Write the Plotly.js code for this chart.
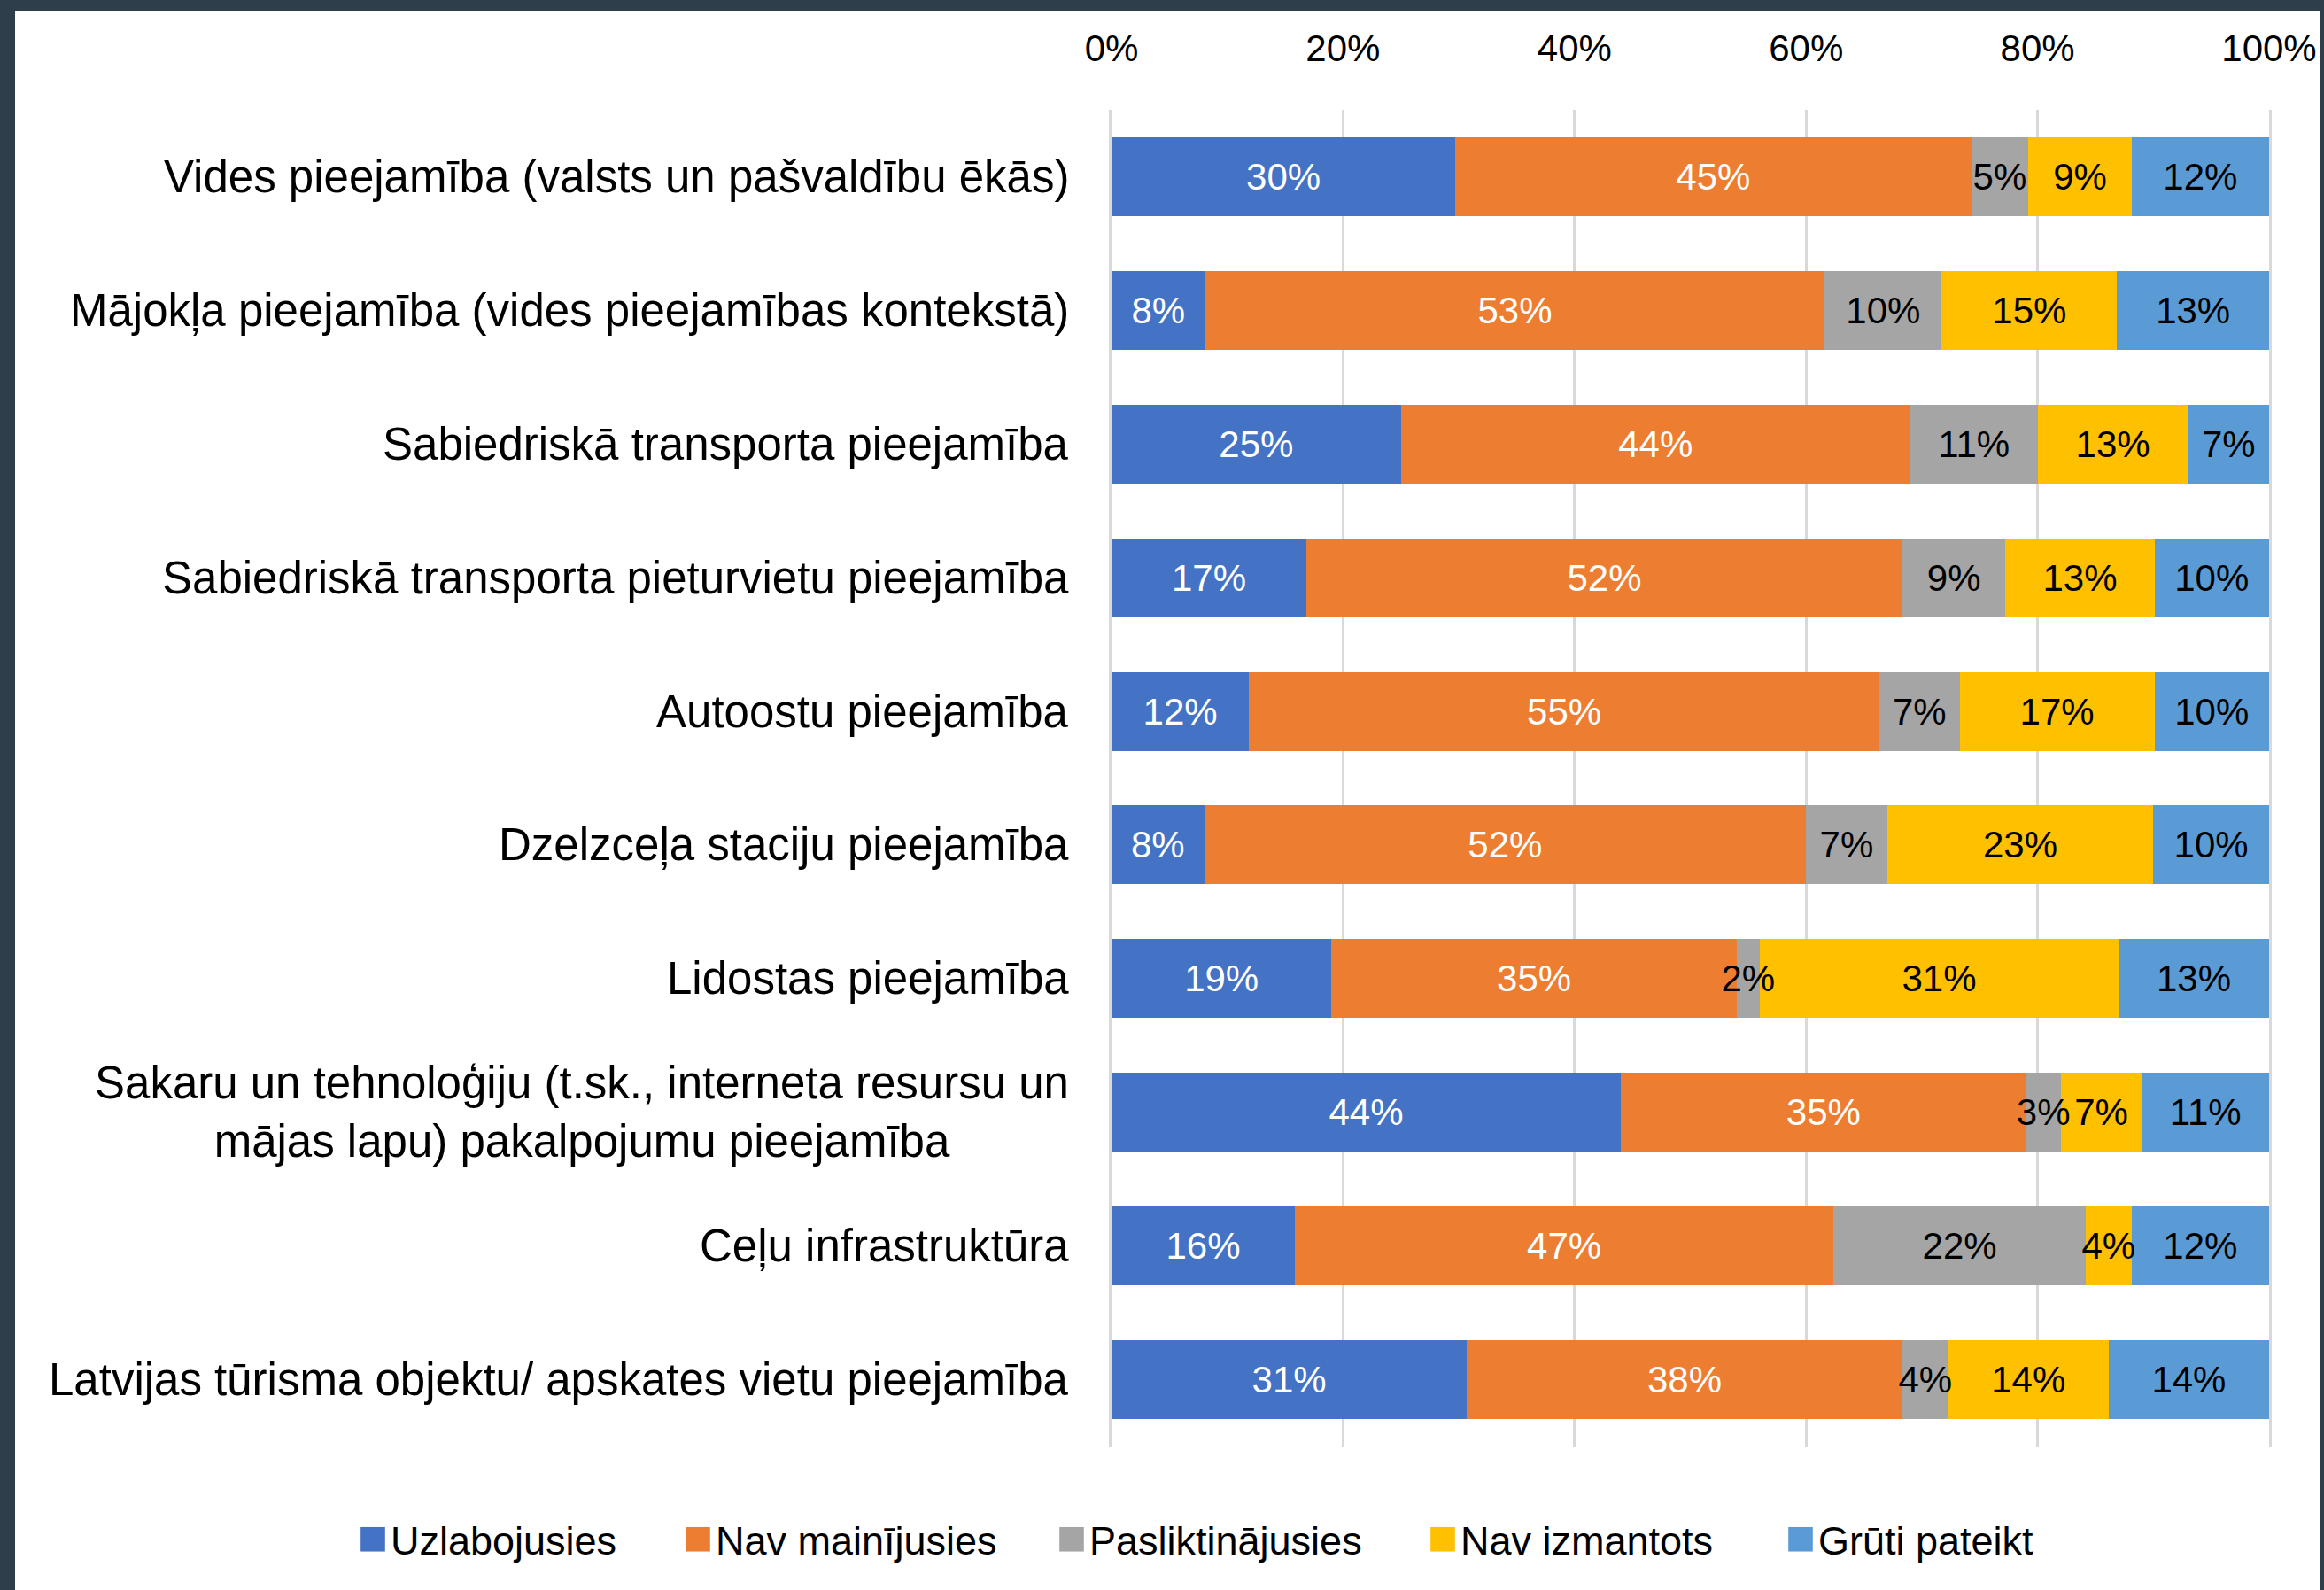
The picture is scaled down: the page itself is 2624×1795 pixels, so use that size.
<!DOCTYPE html>
<html>
<head>
<meta charset="utf-8">
<script src="https://cdn.plot.ly/plotly-3.0.1.min.js"></script>
<style>
html,body{margin:0;padding:0;background:#2e3e4b;width:2624px;height:1795px;overflow:hidden}
#chart{position:absolute;left:17px;top:12px;width:2602px;height:1783px;background:#ffffff}
</style>
</head>
<body>
<div id="chart"></div>
<script>
// ---- data ----
const categories = [
  "Vides pieejamība (valsts un pašvaldību ēkās)",
  "Mājokļa pieejamība (vides pieejamības kontekstā)",
  "Sabiedriskā transporta pieejamība",
  "Sabiedriskā transporta pieturvietu pieejamība",
  "Autoostu pieejamība",
  "Dzelzceļa staciju pieejamība",
  "Lidostas pieejamība",
  "Sakaru un tehnoloģiju (t.sk., interneta resursu un mājas lapu) pakalpojumu pieejamība",
  "Ceļu infrastruktūra",
  "Latvijas tūrisma objektu/ apskates vietu pieejamība"
];
const categoryLabels = [
  "Vides pieejamība (valsts un pašvaldību ēkās)",
  "Mājokļa pieejamība (vides pieejamības kontekstā)",
  "Sabiedriskā transporta pieejamība",
  "Sabiedriskā transporta pieturvietu pieejamība",
  "Autoostu pieejamība",
  "Dzelzceļa staciju pieejamība",
  "Lidostas pieejamība",
  "Sakaru un tehnoloģiju (t.sk., interneta resursu un<br>mājas lapu) pakalpojumu pieejamība",
  "Ceļu infrastruktūra",
  "Latvijas tūrisma objektu/ apskates vietu pieejamība"
];
const seriesNames = ["Uzlabojusies", "Nav mainījusies", "Pasliktinājusies", "Nav izmantots", "Grūti pateikt"];
const uzlabojusies     = [30,  8, 25, 17, 12,  8, 19, 44, 16, 31];
const navMainijusies   = [45, 53, 44, 52, 55, 52, 35, 35, 47, 38];
const pasliktinajusies = [ 5, 10, 11,  9,  7,  7,  2,  3, 22,  4];
const navIzmantots     = [ 9, 15, 13, 13, 17, 23, 31,  7,  4, 14];
const grutiPateikt     = [12, 13,  7, 10, 10, 10, 13, 11, 12, 14];
const xTickValues = [0, 20, 40, 60, 80, 100];
const xTickLabels = ["0%", "20%", "40%", "60%", "80%", "100%"];

// ---- styles ----
const FONT = "Liberation Sans, Arial, sans-serif";
const seriesValues = [uzlabojusies, navMainijusies, pasliktinajusies, navIzmantots, grutiPateikt];
const seriesColors = ["#4472c4", "#ed7d31", "#a5a5a5", "#ffc000", "#5b9bd5"];
const labelColors  = ["#ffffff", "#ffffff", "#000000", "#000000", "#000000"];
const legendWidths = [322, 377, 374, 359, 260];

// coloured bars (main subplot)
const barTraces = seriesNames.map((name, s) => ({
  type: "bar",
  orientation: "h",
  name: name,
  y: categories,
  x: seriesValues[s],
  xaxis: "x", yaxis: "y",
  textposition: "none",
  marker: {color: seriesColors[s], line: {width: 0}},
  legendwidth: legendWidths[s],
  hoverinfo: "name+x"
}));

// same stacks on an overlaid axis, transparent, carrying the value labels on top
const labelTraces = seriesNames.map((name, s) => ({
  type: "bar",
  orientation: "h",
  name: name,
  y: categories,
  x: seriesValues[s],
  xaxis: "x", yaxis: "y2",
  text: seriesValues[s].map(v => v + "%"),
  texttemplate: "%{text}",
  textposition: "inside",
  insidetextanchor: "middle",
  textangle: 0,
  constraintext: "none",
  cliponaxis: false,
  textfont: {family: FONT, size: 42, color: labelColors[s]},
  marker: {color: "rgba(0,0,0,0)", line: {width: 0}},
  showlegend: false,
  hoverinfo: "skip"
}));

const annotations = categories.map((c, i) => ({
  xref: "paper", yref: "y",
  x: 0, y: c,
  xanchor: "right", yanchor: "middle",
  xshift: -46,
  text: categoryLabels[i],
  showarrow: false,
  align: "center",
  font: {family: FONT, size: 51, color: "#000000"}
}));

const layout = {
  width: 2602, height: 1783,
  paper_bgcolor: "#ffffff",
  plot_bgcolor: "#ffffff",
  barmode: "stack",
  barnorm: "percent",
  bargap: 0.41,
  margin: {l: 1238, r: 57, t: 112, b: 162},
  font: {family: FONT, color: "#000000"},
  xaxis: {
    side: "top",
    range: [0, 100.0001],
    tickvals: xTickValues,
    ticktext: xTickLabels,
    showgrid: true,
    gridcolor: "#d9d9d9",
    gridwidth: 3,
    zeroline: false,
    showline: false,
    ticks: "",
    ticklabelstandoff: 46,
    tickfont: {family: FONT, size: 42, color: "#000000"},
    layer: "below traces"
  },
  yaxis: {
    type: "category",
    autorange: "reversed",
    showticklabels: false,
    showgrid: false,
    zeroline: false,
    showline: true,
    mirror: true,
    linecolor: "#d9d9d9",
    linewidth: 3,
    layer: "below traces"
  },
  yaxis2: {
    type: "category",
    overlaying: "y",
    matches: "y",
    autorange: "reversed",
    showticklabels: false,
    showgrid: false,
    zeroline: false,
    showline: false,
    ticks: ""
  },
  showlegend: true,
  legend: {
    orientation: "h",
    traceorder: "normal",
    xref: "paper", yref: "paper",
    x: (384 - 1238) / 1307, xanchor: "left",
    y: (1621 - 1726) / 1509, yanchor: "middle",
    font: {family: FONT, size: 45, color: "#000000"},
    bgcolor: "rgba(0,0,0,0)"
  },
  annotations: annotations
};

function enlargeLegendSymbols() {
  document.querySelectorAll("#chart .legendpoints path").forEach(p => {
    if (p.getAttribute("data-big")) return;
    const t = p.getAttribute("transform") || "";
    p.setAttribute("transform", t + " scale(2.3)");
    p.setAttribute("data-big", "1");
  });
}

Plotly.newPlot("chart", barTraces.concat(labelTraces), layout, {displayModeBar: false, staticPlot: true}).then(gd => {
  enlargeLegendSymbols();
  gd.on("plotly_afterplot", enlargeLegendSymbols);
});
</script>
</body>
</html>
